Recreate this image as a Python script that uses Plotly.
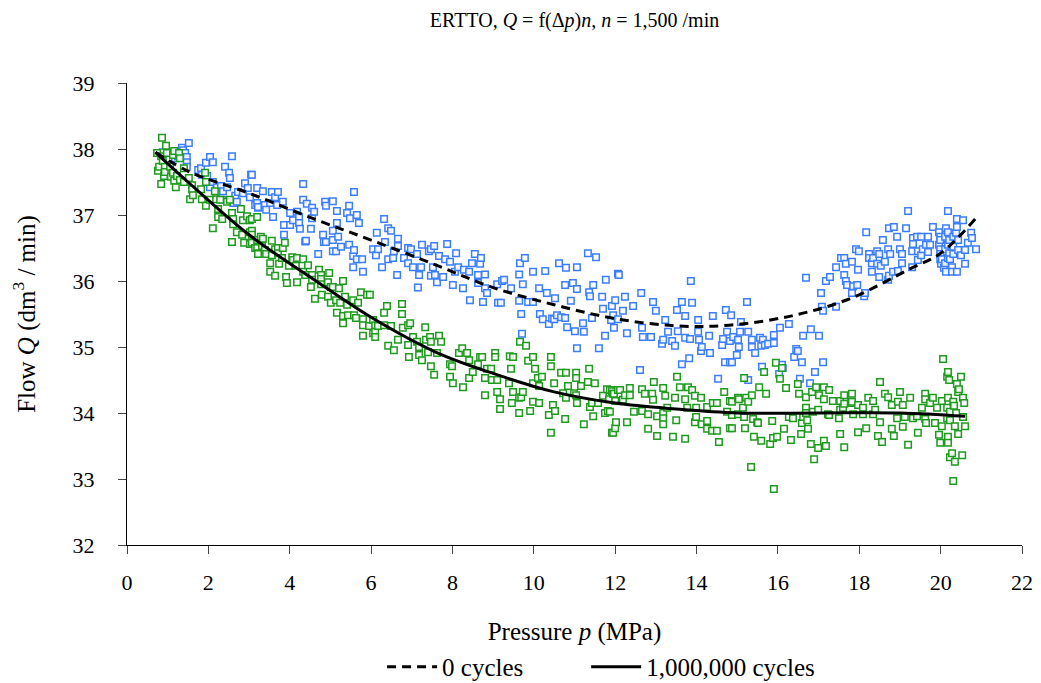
import plotly.graph_objects as go

# 0 cycles (blue squares), pairs of (pressure MPa, flow dm3/min)
blue_pts = [
    (0.88, 37.95), (1.06, 37.94), (1.18, 37.86), (1.25, 37.89), (1.35, 38.02), (1.38, 37.98),
    (1.43, 37.94), (1.47, 37.88), (1.47, 37.8), (1.47, 37.73), (1.52, 38.09), (1.75, 37.68),
    (1.82, 37.71), (1.84, 37.61), (1.94, 37.79), (1.97, 37.59), (1.97, 37.5), (2.04, 37.88),
    (2.04, 37.42), (2.11, 37.8), (2.11, 37.5), (2.21, 37.42), (2.31, 37.44), (2.34, 37.23),
    (2.36, 37.36), (2.41, 37.73), (2.46, 37.42), (2.51, 37.64), (2.53, 37.56), (2.58, 37.89),
    (2.61, 37.18), (2.66, 37.29), (2.7, 37.2), (2.73, 37.35), (2.85, 37.33), (2.9, 37.48),
    (2.97, 37.41), (3.02, 37.27), (3.05, 37.61), (3.07, 37.61), (3.15, 37.15), (3.2, 37.41),
    (3.2, 37.18), (3.22, 37.11), (3.22, 37.12), (3.34, 37.36), (3.39, 37.15), (3.42, 37.08),
    (3.52, 37.18), (3.56, 37.35), (3.59, 36.97), (3.64, 37.27), (3.69, 37.15), (3.71, 37.35),
    (3.83, 37.2), (3.86, 36.85), (3.86, 36.7), (4.01, 37.03), (4.01, 36.85), (4.08, 36.92),
    (4.18, 37.05), (4.23, 36.97), (4.23, 36.88), (4.25, 36.79), (4.33, 37.23), (4.33, 37.47),
    (4.38, 36.6), (4.4, 36.61), (4.42, 37.17), (4.52, 36.79), (4.55, 37.11), (4.55, 36.95),
    (4.6, 37.05), (4.7, 36.41), (4.82, 36.7), (4.84, 36.59), (4.87, 37.2), (4.89, 37.14),
    (4.89, 36.59), (5.06, 37.21), (5.06, 36.76), (5.06, 36.62), (5.06, 36.45), (5.14, 36.45),
    (5.16, 37.06), (5.16, 36.88), (5.19, 36.67), (5.26, 36.52), (5.41, 37.03), (5.46, 37.14),
    (5.46, 36.55), (5.48, 36.95), (5.56, 36.38), (5.56, 36.21), (5.58, 37.35), (5.58, 36.47),
    (5.65, 37.0), (5.65, 36.33), (5.7, 36.88), (5.78, 36.33), (5.8, 36.14), (6.05, 36.48),
    (6.12, 36.39), (6.14, 36.73), (6.17, 36.48), (6.27, 36.21), (6.32, 36.94), (6.34, 36.59),
    (6.42, 36.8), (6.42, 36.33), (6.49, 36.76), (6.54, 36.35), (6.56, 36.45), (6.64, 36.09),
    (6.66, 36.64), (6.66, 36.53), (6.81, 36.35), (6.91, 36.5), (6.91, 36.27), (6.98, 36.48),
    (7.03, 36.21), (7.13, 36.41), (7.15, 35.9), (7.18, 36.09), (7.23, 36.21), (7.25, 36.55),
    (7.42, 36.45), (7.47, 36.48), (7.47, 36.08), (7.52, 36.21), (7.55, 36.53), (7.57, 36.09),
    (7.62, 35.98), (7.67, 36.38), (7.77, 36.06), (7.82, 36.33), (7.87, 36.56), (7.94, 36.29),
    (8.01, 35.94), (8.06, 36.14), (8.09, 36.42), (8.14, 36.21), (8.26, 35.89), (8.28, 36.17),
    (8.41, 36.14), (8.43, 35.71), (8.48, 36.27), (8.55, 36.41), (8.63, 36.09), (8.63, 35.97),
    (8.68, 36.26), (8.7, 36.35), (8.75, 35.68), (8.8, 36.1), (8.8, 35.89), (8.85, 35.82),
    (9.1, 35.95), (9.12, 35.67), (9.19, 35.67), (9.22, 36.0), (9.27, 36.02), (9.44, 35.89),
    (9.64, 36.1), (9.64, 35.7), (9.66, 36.27), (9.69, 35.5), (9.71, 35.2), (9.73, 35.95),
    (9.78, 36.35), (9.86, 35.68), (9.98, 36.14), (9.98, 35.68), (10.13, 35.89), (10.15, 35.5),
    (10.22, 35.42), (10.28, 36.15), (10.32, 35.82), (10.37, 35.35), (10.45, 35.43), (10.5, 35.42),
    (10.52, 35.74), (10.57, 35.48), (10.62, 36.27), (10.67, 35.45), (10.77, 35.94), (10.77, 35.44),
    (10.79, 36.2), (10.82, 35.3), (10.91, 35.7), (10.96, 35.97), (11.01, 35.24), (11.06, 36.21),
    (11.06, 35.88), (11.06, 34.98), (11.21, 35.36), (11.23, 35.23), (11.33, 36.42), (11.36, 35.83),
    (11.38, 35.77), (11.43, 35.44), (11.46, 35.94), (11.53, 36.36), (11.6, 34.98), (11.68, 35.76),
    (11.7, 35.58), (11.75, 35.17), (11.77, 36.02), (11.9, 35.41), (11.92, 35.62), (11.95, 35.48),
    (11.97, 35.29), (12.0, 35.71), (12.07, 36.11), (12.07, 35.42), (12.09, 36.09), (12.19, 35.55),
    (12.24, 35.76), (12.29, 35.21), (12.44, 35.62), (12.61, 34.65), (12.64, 35.82), (12.66, 35.29),
    (12.68, 35.15), (12.88, 35.15), (12.93, 35.68), (13.0, 35.55), (13.15, 35.05), (13.18, 35.11),
    (13.23, 35.41), (13.3, 35.23), (13.4, 35.09), (13.47, 35.02), (13.52, 35.56), (13.54, 35.24),
    (13.64, 35.68), (13.64, 34.74), (13.72, 35.47), (13.72, 35.14), (13.82, 34.83), (13.84, 35.12),
    (13.86, 36.0), (13.89, 35.67), (14.04, 35.41), (14.04, 35.23), (14.06, 35.11), (14.11, 34.94),
    (14.13, 35.0), (14.31, 35.17), (14.33, 34.91), (14.4, 35.47), (14.53, 34.52), (14.63, 35.03),
    (14.65, 35.12), (14.7, 34.77), (14.72, 35.56), (14.75, 35.23), (14.82, 35.09), (14.82, 34.77),
    (14.85, 35.48), (14.87, 34.77), (14.9, 35.15), (14.99, 34.88), (15.02, 35.11), (15.04, 35.0),
    (15.07, 35.23), (15.09, 35.38), (15.24, 35.68), (15.27, 35.23), (15.27, 34.5), (15.36, 35.11),
    (15.36, 35.0), (15.44, 34.91), (15.56, 35.14), (15.59, 35.02), (15.61, 34.7), (15.63, 35.11),
    (15.68, 35.03), (15.76, 35.05), (15.9, 35.06), (15.9, 35.18), (16.03, 34.59), (16.05, 35.29),
    (16.1, 34.73), (16.12, 34.68), (16.27, 35.35), (16.4, 34.85), (16.45, 34.97), (16.49, 34.94),
    (16.54, 34.52), (16.59, 34.77), (16.62, 35.17), (16.69, 36.05), (16.79, 34.45), (16.81, 35.27),
    (16.91, 34.62), (17.01, 35.17), (17.06, 35.82), (17.08, 35.61), (17.11, 35.55), (17.11, 34.77),
    (17.18, 36.0), (17.28, 36.06), (17.43, 36.21), (17.43, 35.61), (17.55, 36.35), (17.63, 36.35),
    (17.63, 36.09), (17.67, 36.26), (17.67, 36.0), (17.7, 35.94), (17.82, 36.29), (17.82, 35.82),
    (17.85, 35.92), (17.92, 36.48), (17.95, 35.94), (17.97, 36.17), (17.99, 36.45), (18.12, 35.77),
    (18.14, 35.82), (18.17, 36.74), (18.24, 36.41), (18.24, 36.35), (18.31, 36.27), (18.31, 36.14),
    (18.34, 36.35), (18.44, 36.45), (18.44, 36.26), (18.49, 36.41), (18.49, 36.06), (18.53, 36.23),
    (18.58, 36.62), (18.63, 36.29), (18.71, 36.48), (18.71, 36.02), (18.73, 36.8), (18.73, 36.08),
    (18.76, 36.41), (18.83, 36.14), (18.85, 36.82), (18.93, 36.67), (18.95, 36.15), (19.0, 36.48),
    (19.05, 36.41), (19.05, 36.27), (19.15, 36.8), (19.2, 37.06), (19.3, 36.45), (19.3, 36.21),
    (19.32, 36.65), (19.32, 36.56), (19.42, 36.67), (19.44, 36.45), (19.44, 36.32), (19.52, 36.67),
    (19.52, 36.39), (19.56, 36.48), (19.64, 36.55), (19.69, 36.67), (19.69, 36.44), (19.74, 36.55),
    (19.81, 36.82), (19.96, 36.74), (19.96, 36.55), (19.99, 36.67), (19.99, 36.62), (19.99, 36.48),
    (19.99, 36.41), (19.99, 36.33), (20.01, 36.26), (20.03, 36.33), (20.08, 36.2), (20.11, 36.67),
    (20.11, 36.48), (20.11, 36.27), (20.13, 36.8), (20.13, 36.14), (20.18, 37.06), (20.18, 36.74),
    (20.18, 36.55), (20.18, 36.35), (20.21, 36.62), (20.21, 36.42), (20.23, 36.33), (20.28, 36.21),
    (20.28, 36.14), (20.31, 36.67), (20.31, 36.52), (20.31, 36.41), (20.38, 36.73), (20.4, 36.94),
    (20.4, 36.82), (20.4, 36.14), (20.43, 36.62), (20.43, 36.47), (20.5, 36.39), (20.55, 36.92),
    (20.6, 36.47), (20.6, 36.26), (20.67, 36.58), (20.75, 36.73), (20.77, 36.65), (20.87, 36.48),
]

# 1,000,000 cycles (green squares)
green_pts = [
    (0.74, 37.94), (0.76, 37.67), (0.79, 37.73), (0.84, 37.89), (0.84, 37.47), (0.86, 38.17),
    (0.88, 37.82), (0.91, 37.59), (0.93, 37.73), (0.93, 37.65), (0.96, 38.05), (0.98, 37.94),
    (1.06, 37.73), (1.08, 37.58), (1.13, 37.91), (1.13, 37.64), (1.16, 37.97), (1.16, 37.52),
    (1.2, 37.42), (1.23, 37.59), (1.28, 37.94), (1.3, 37.86), (1.3, 37.53), (1.4, 37.71),
    (1.4, 37.5), (1.52, 37.56), (1.55, 37.24), (1.6, 37.45), (1.6, 37.39), (1.62, 37.3),
    (1.82, 37.39), (1.84, 37.24), (1.92, 37.64), (1.94, 37.5), (1.94, 37.14), (2.04, 37.23),
    (2.11, 36.8), (2.16, 37.36), (2.19, 37.24), (2.24, 37.09), (2.24, 36.97), (2.29, 37.23),
    (2.34, 36.94), (2.46, 37.2), (2.53, 37.23), (2.58, 37.03), (2.58, 36.59), (2.61, 36.94),
    (2.61, 36.86), (2.7, 36.74), (2.8, 37.09), (2.83, 36.7), (2.85, 36.92), (2.88, 36.58),
    (2.95, 36.98), (3.02, 36.92), (3.02, 36.74), (3.02, 36.56), (3.07, 36.94), (3.07, 36.76),
    (3.07, 36.7), (3.07, 36.58), (3.15, 36.5), (3.2, 36.97), (3.2, 36.62), (3.2, 36.5),
    (3.22, 36.42), (3.22, 36.41), (3.29, 36.67), (3.32, 36.53), (3.34, 36.64), (3.39, 36.47),
    (3.42, 36.41), (3.52, 36.27), (3.52, 36.14), (3.56, 36.61), (3.56, 36.39), (3.64, 36.48),
    (3.64, 36.08), (3.71, 36.5), (3.71, 36.42), (3.74, 36.26), (3.81, 36.35), (3.83, 36.5),
    (3.88, 36.58), (3.91, 36.06), (3.93, 35.97), (3.98, 36.23), (4.06, 36.36), (4.08, 36.32),
    (4.15, 36.23), (4.18, 36.35), (4.18, 35.98), (4.33, 36.33), (4.33, 36.14), (4.38, 36.09),
    (4.45, 36.24), (4.52, 35.91), (4.55, 36.09), (4.55, 36.02), (4.62, 35.73), (4.72, 36.17),
    (4.77, 36.09), (4.77, 36.03), (4.77, 35.95), (4.79, 35.79), (4.94, 35.98), (4.94, 35.76),
    (4.97, 36.12), (5.01, 35.91), (5.01, 35.67), (5.06, 35.91), (5.14, 35.71), (5.16, 35.52),
    (5.21, 35.89), (5.24, 35.67), (5.31, 36.0), (5.31, 35.47), (5.31, 35.36), (5.36, 35.76),
    (5.41, 35.64), (5.43, 35.48), (5.56, 35.71), (5.58, 35.48), (5.63, 35.44), (5.68, 35.67),
    (5.75, 35.83), (5.8, 35.42), (5.8, 35.33), (5.8, 35.17), (5.9, 35.79), (5.95, 35.32),
    (5.97, 35.79), (6.05, 35.41), (6.05, 35.21), (6.1, 35.33), (6.1, 35.23), (6.1, 35.15),
    (6.17, 35.32), (6.32, 35.52), (6.32, 35.33), (6.39, 35.62), (6.42, 35.02), (6.49, 35.32),
    (6.56, 34.95), (6.66, 35.11), (6.76, 35.65), (6.76, 35.5), (6.78, 35.29), (6.91, 35.33),
    (6.91, 35.03), (6.93, 34.85), (6.96, 35.36), (7.03, 35.15), (7.13, 35.08), (7.18, 35.0),
    (7.18, 34.88), (7.25, 34.8), (7.33, 35.3), (7.35, 35.11), (7.4, 34.92), (7.45, 35.15),
    (7.47, 35.08), (7.47, 34.71), (7.55, 34.58), (7.62, 34.91), (7.67, 35.17), (7.72, 35.08),
    (7.94, 34.74), (7.94, 34.55), (7.99, 34.71), (8.01, 34.45), (8.16, 34.91), (8.24, 34.98),
    (8.26, 34.39), (8.36, 34.91), (8.41, 34.8), (8.41, 34.53), (8.5, 34.62), (8.63, 34.74),
    (8.68, 34.85), (8.73, 34.85), (8.8, 34.53), (8.8, 34.27), (8.85, 34.67), (8.95, 34.67),
    (8.97, 34.5), (9.05, 34.91), (9.05, 34.85), (9.1, 34.5), (9.1, 34.32), (9.17, 34.21),
    (9.17, 34.06), (9.39, 34.45), (9.41, 34.86), (9.44, 34.67), (9.46, 34.15), (9.49, 34.85),
    (9.49, 34.32), (9.64, 34.23), (9.64, 34.0), (9.66, 35.08), (9.69, 34.24), (9.73, 34.32),
    (9.81, 35.02), (9.86, 34.79), (9.91, 34.03), (9.98, 34.85), (9.98, 34.45), (9.98, 34.17),
    (10.03, 34.67), (10.1, 34.53), (10.13, 34.41), (10.13, 34.15), (10.2, 34.55), (10.37, 33.97),
    (10.42, 34.85), (10.42, 34.71), (10.42, 33.7), (10.47, 34.12), (10.5, 34.45), (10.52, 34.03),
    (10.67, 34.61), (10.72, 34.3), (10.77, 33.91), (10.79, 34.61), (10.79, 34.23), (10.84, 34.41),
    (10.99, 34.3), (11.04, 34.61), (11.04, 34.53), (11.04, 34.27), (11.06, 34.15), (11.16, 34.41),
    (11.23, 33.83), (11.33, 34.47), (11.36, 34.67), (11.38, 34.09), (11.43, 34.15), (11.46, 33.95),
    (11.5, 34.45), (11.58, 34.15), (11.7, 34.26), (11.75, 34.0), (11.8, 34.36), (11.82, 34.03),
    (11.85, 34.21), (11.87, 34.35), (11.87, 34.02), (11.92, 34.33), (11.92, 33.7), (11.95, 34.29),
    (11.95, 33.7), (11.97, 34.29), (12.0, 34.18), (12.0, 33.77), (12.02, 33.86), (12.07, 34.35),
    (12.12, 34.35), (12.19, 34.2), (12.24, 34.27), (12.29, 33.86), (12.36, 34.38), (12.36, 34.27),
    (12.46, 34.02), (12.66, 34.36), (12.66, 34.03), (12.73, 34.29), (12.81, 33.98), (12.81, 33.76),
    (12.91, 34.29), (12.93, 34.2), (12.95, 34.47), (13.03, 33.95), (13.03, 33.65), (13.18, 34.38),
    (13.18, 34.0), (13.18, 33.92), (13.18, 33.83), (13.23, 34.26), (13.28, 34.08), (13.42, 33.64),
    (13.47, 34.23), (13.5, 33.89), (13.52, 34.55), (13.59, 34.39), (13.72, 34.21), (13.72, 33.61),
    (13.77, 34.08), (13.79, 34.39), (13.89, 34.35), (13.96, 34.26), (13.96, 33.86), (13.99, 34.08),
    (13.99, 33.94), (14.11, 34.23), (14.13, 33.83), (14.26, 34.09), (14.26, 33.88), (14.26, 33.76),
    (14.38, 33.73), (14.4, 34.15), (14.5, 34.15), (14.5, 33.73), (14.55, 33.56), (14.68, 34.32),
    (14.75, 34.02), (14.82, 34.18), (14.82, 33.77), (14.87, 34.17), (14.87, 33.97), (14.87, 33.77),
    (15.02, 34.23), (15.02, 33.98), (15.04, 34.21), (15.14, 34.08), (15.17, 34.53), (15.17, 33.94),
    (15.19, 33.77), (15.22, 34.23), (15.27, 34.17), (15.34, 33.18), (15.36, 34.27), (15.39, 33.91),
    (15.41, 33.64), (15.49, 33.86), (15.51, 33.85), (15.54, 34.39), (15.59, 33.58), (15.66, 34.62),
    (15.71, 34.29), (15.81, 33.53), (15.86, 33.88), (15.88, 33.62), (15.9, 32.85), (15.95, 34.76),
    (15.98, 33.64), (16.05, 34.52), (16.1, 34.68), (16.15, 33.76), (16.2, 34.38), (16.27, 33.94),
    (16.32, 33.59), (16.37, 33.92), (16.49, 34.44), (16.52, 34.29), (16.57, 33.68), (16.59, 33.85),
    (16.62, 33.94), (16.69, 34.24), (16.69, 34.08), (16.69, 34.0), (16.72, 33.89), (16.74, 33.76),
    (16.81, 33.53), (16.84, 34.32), (16.86, 34.02), (16.89, 33.3), (16.94, 34.39), (16.99, 34.05),
    (16.99, 33.47), (17.01, 34.27), (17.13, 34.39), (17.13, 34.21), (17.13, 33.58), (17.18, 33.5),
    (17.23, 33.98), (17.26, 34.35), (17.26, 33.97), (17.35, 34.18), (17.5, 33.92), (17.53, 34.18),
    (17.53, 34.05), (17.53, 33.68), (17.6, 34.08), (17.63, 34.27), (17.63, 34.14), (17.63, 33.48),
    (17.8, 34.15), (17.82, 34.29), (17.82, 34.17), (17.85, 33.98), (17.97, 34.12), (17.97, 33.71),
    (18.09, 34.08), (18.09, 33.98), (18.17, 33.77), (18.22, 34.23), (18.34, 34.18), (18.34, 33.98),
    (18.39, 34.05), (18.46, 33.65), (18.51, 34.47), (18.51, 33.86), (18.56, 33.56), (18.63, 34.29),
    (18.71, 34.24), (18.8, 34.12), (18.8, 33.76), (18.85, 33.65), (18.93, 33.92), (18.95, 34.17),
    (19.0, 34.32), (19.07, 34.12), (19.07, 33.79), (19.12, 33.94), (19.2, 33.52), (19.25, 34.23),
    (19.32, 33.92), (19.42, 33.95), (19.44, 33.7), (19.54, 34.08), (19.62, 34.29), (19.62, 34.21),
    (19.62, 33.91), (19.64, 33.85), (19.74, 34.15), (19.81, 34.23), (19.86, 33.85), (19.91, 34.08),
    (19.96, 33.67), (19.99, 33.55), (20.03, 34.18), (20.03, 33.8), (20.06, 34.82), (20.16, 34.55),
    (20.16, 34.08), (20.16, 33.92), (20.18, 34.62), (20.18, 34.23), (20.18, 33.64), (20.18, 33.55),
    (20.21, 34.5), (20.23, 34.02), (20.23, 33.89), (20.23, 33.33), (20.28, 33.39), (20.31, 34.17),
    (20.31, 32.97), (20.33, 34.11), (20.35, 33.8), (20.35, 33.26), (20.38, 34.0), (20.4, 34.44),
    (20.43, 34.32), (20.43, 33.68), (20.45, 34.36), (20.5, 34.55), (20.53, 33.36), (20.55, 34.23),
    (20.55, 33.94), (20.58, 34.15), (20.6, 33.8),
]

# trend lines
fit0_p = [0.7, 1.55, 3.0, 4.6, 6.0, 7.6, 9.0, 10.5, 12.0, 13.5, 14.8, 16.4, 17.8, 19.2, 20.0, 20.85]
fit0_q = [37.95, 37.65, 37.33, 36.94, 36.62, 36.24, 35.9, 35.64, 35.43, 35.32, 35.33, 35.48, 35.74, 36.17, 36.42, 36.94]
fit1_p = [0.7, 1.5, 3.0, 4.6, 6.0, 7.6, 9.0, 10.5, 12.0, 13.5, 15.0, 17.0, 19.0, 20.6]
fit1_q = [37.95, 37.5, 36.7, 36.02, 35.45, 34.92, 34.6, 34.32, 34.15, 34.06, 34.0, 34.0, 34.0, 33.95]

x_ticks = list(range(0, 23, 2))
y_ticks = list(range(32, 40))

SERIF = "Liberation Serif, Times New Roman, serif"

fig = go.Figure()

for pts, col in [(blue_pts, "#3a7dff"), (green_pts, "#1e9a1e")]:
    fig.add_trace(go.Scatter(
        x=[p for p, q in pts],
        y=[q for p, q in pts],
        mode="markers",
        marker=dict(symbol="square", size=6.5, color="rgba(255,255,255,0.85)",
                    line=dict(color=col, width=1.5)),
        showlegend=False,
        hoverinfo="skip",
    ))

fig.add_trace(go.Scatter(
    x=fit0_p, y=fit0_q, mode="lines", name="0 cycles", legend="legend",
    line=dict(color="black", width=3, dash="9px,6px", shape="spline"),
))
fig.add_trace(go.Scatter(
    x=fit1_p, y=fit1_q, mode="lines", name="1,000,000 cycles", legend="legend2",
    line=dict(color="black", width=3, shape="spline"),
))

legend_style = dict(orientation="h", xanchor="left", y=-0.264, yanchor="middle",
                    font=dict(size=25), itemwidth=50, bgcolor="rgba(0,0,0,0)")

# the page body adds an 8px offset, so margins are shifted by that much
fig.update_layout(
    width=1041, height=683,
    margin=dict(l=119, r=27, t=75, b=146, autoexpand=False),
    paper_bgcolor="white", plot_bgcolor="white",
    font=dict(family=SERIF, size=21, color="black"),
    title=dict(
        text="ERTTO, <i>Q</i> = f(Δ<i>p</i>)<i>n</i>, <i>n</i> = 1,500 /min",
        x=0.5, xref="paper", y=1 - 12 / 683, yanchor="middle",
        font=dict(family=SERIF, size=20),
    ),
    xaxis=dict(
        range=[0, 22], tickvals=x_ticks, ticks="outside", ticklen=8,
        ticklabelstandoff=10, tickfont=dict(size=22),
        showline=True, linecolor="black", linewidth=1, showgrid=False, zeroline=False,
        title=dict(text="Pressure <i>p</i> (MPa)", standoff=28),
    ),
    yaxis=dict(
        range=[32, 39], tickvals=y_ticks, ticks="outside", ticklen=8,
        ticklabelstandoff=19, tickfont=dict(size=22),
        showline=True, linecolor="black", linewidth=1, showgrid=False, zeroline=False,
        title=dict(text="Flow <i>Q</i> (dm<sup>3</sup> / min)", standoff=40),
    ),
    legend=dict(x=0.285, **legend_style),
    legend2=dict(x=0.513, **legend_style),
)

fig.write_html("out.html")
